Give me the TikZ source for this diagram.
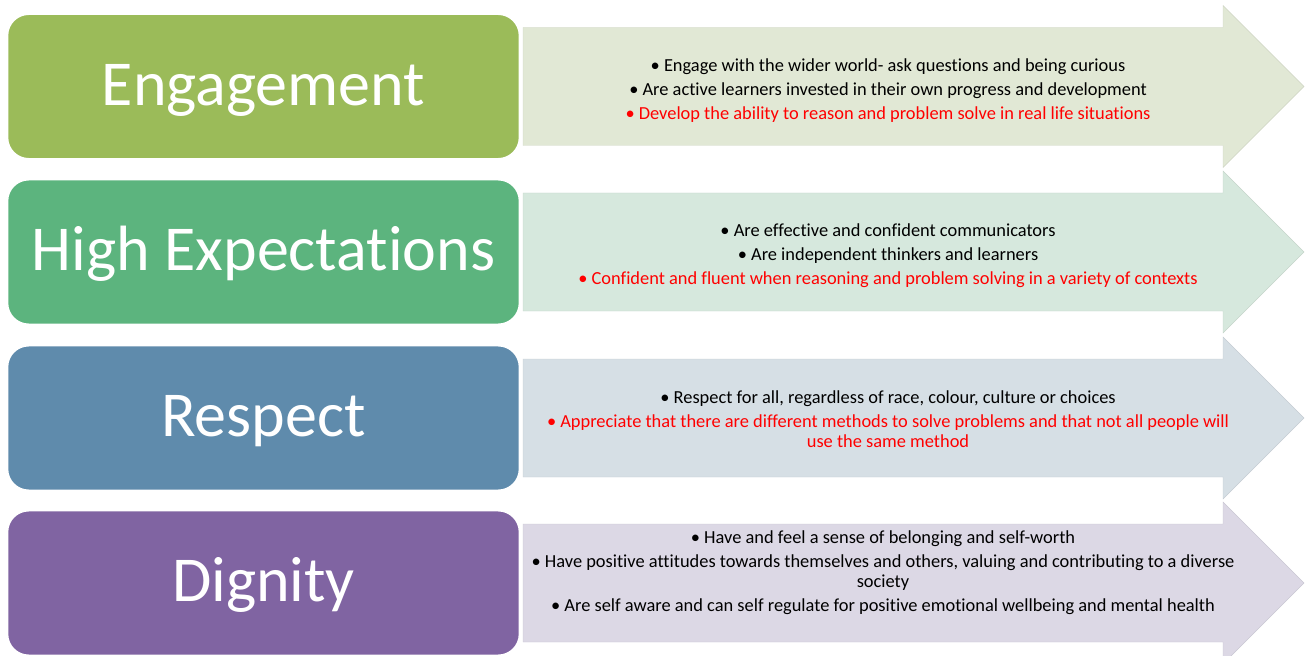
\documentclass[tikz,border=0pt]{standalone}
\usepackage{fontspec}
\setmainfont{Carlito}[Ligatures=NoCommon]
\usetikzlibrary{positioning}

\definecolor{engdark}{HTML}{9BBB59}
\definecolor{highdark}{HTML}{5CB47E}
\definecolor{resdark}{HTML}{5F8BAC}
\definecolor{digdark}{HTML}{8064A2}
\definecolor{englight}{HTML}{E1E8D5}
\definecolor{highlight}{HTML}{D6E8DD}
\definecolor{reslight}{HTML}{D6DFE5}
\definecolor{diglight}{HTML}{DCD8E5}

\tikzset{
  valuebox/.style={draw=white, line width=1.2pt, rounded corners=16pt,
    minimum width=384pt, minimum height=108.5pt, inner sep=0pt},
  valuetitle/.style={white, anchor=base, inner sep=0pt,
    font=\fontsize{48}{52}\selectfont},
  aimtext/.style={align=center, inner sep=0pt,
    font=\fontsize{13.8}{15}\selectfont},
}

\begin{document}
\begin{tikzpicture}[x=0.75pt,y=-0.75pt]
    \useasboundingbox (0,0) rectangle (1311,656);
    % the four arrows behind
    \foreach \yc/\col in {86.5/englight, 252/highlight, 418/reslight, 583/diglight}{
        \filldraw[fill=\col, draw=\col!92!black, line width=0.3pt]
            (523,\yc-59) -- (1223,\yc-59) -- (1223,\yc-81) -- (1304,\yc)
            -- (1223,\yc+81) -- (1223,\yc+59) -- (523,\yc+59) -- cycle;
    }
    % value boxes
    \node[valuebox, fill=engdark]  (eng)  at (263.5,86.5) {};
    \node[valuebox, fill=highdark] (high) at (263.5,252)  {};
    \node[valuebox, fill=resdark]  (res)  at (263.5,418)  {};
    \node[valuebox, fill=digdark]  (dig)  at (263.5,583)  {};
    \node[valuetitle] (engtitle)  at ([yshift=-14pt]eng.center)  {Engagement};
    \node[valuetitle] (hightitle) at ([yshift=-14pt]high.center) {High Expectations};
    \node[valuetitle] (restitle)  at ([yshift=-14pt]res.center)  {Respect};
    \node[valuetitle] (digtitle)  at ([yshift=-14pt]dig.center)  {Dignity};
    % aims
    \node[aimtext] (engaims) at (888,90.5) {%
        • Engage with the wider world- ask questions and being curious\\[3pt]
        • Are active learners invested in their own progress and development\\[3pt]
        \textcolor{red}{• Develop the ability to reason and problem solve in real life situations}};
    \node[aimtext] (highaims) at (888,255.5) {%
        • Are effective and confident communicators\\[3pt]
        • Are independent thinkers and learners\\[3pt]
        \textcolor{red}{• Confident and fluent when reasoning and problem solving in a variety of contexts}};
    \node[aimtext] (resaims) at (888,419) {%
        • Respect for all, regardless of race, colour, culture or choices\\[3pt]
        \textcolor{red}{• Appreciate that there are different methods to solve problems and that not all people will}\\
        \textcolor{red}{use the same method}};
    \node[aimtext] (digaims) at (883,572.5) {%
        • Have and feel a sense of belonging and self-worth\\[3pt]
        • Have positive attitudes towards themselves and others, valuing and contributing to a diverse\\
        society\\[3pt]
        • Are self aware and can self regulate for positive emotional wellbeing and mental health};
\end{tikzpicture}
\end{document}
